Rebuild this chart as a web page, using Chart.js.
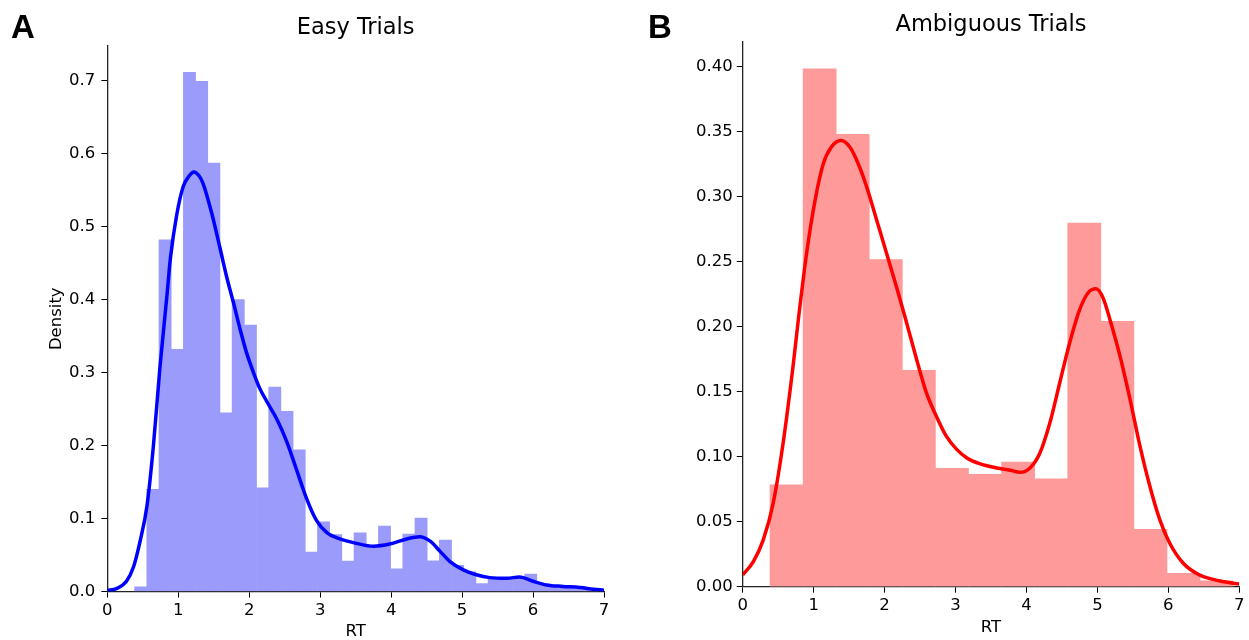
<!DOCTYPE html>
<html>
<head>
<meta charset="utf-8">
<script src="https://cdn.jsdelivr.net/npm/chart.js@4.4.0/dist/chart.umd.min.js"></script>
<style>
    html, body { margin: 0; padding: 0; background: #fff; overflow: hidden; }
    #easyChart { position: absolute; left: 0; top: 0; }
    #ambChart { position: absolute; left: 624px; top: 0; }
</style>
</head>
<body>
<canvas id="easyChart" width="624" height="642"></canvas>
<canvas id="ambChart" width="625" height="642"></canvas>
<script>
const rtTicks = [0, 1, 2, 3, 4, 5, 6, 7];

// Easy trials: density histogram (38 bins over the RT range) + kde
const easyBinRange = [0.385, 6.913];
const easyDensity = [
    0.0064, 0.140, 0.482, 0.332, 0.7115, 0.699, 0.587, 0.245, 0.400, 0.365,
    0.142, 0.280, 0.247, 0.194, 0.054, 0.0955, 0.078, 0.0416, 0.0805, 0.062,
    0.0897, 0.031, 0.0788, 0.1007, 0.042, 0.0705, 0.036, 0.027, 0.011, 0.018,
    0.019, 0.018, 0.024, 0.009, 0.0066, 0.006, 0.005, 0.003
];
const easyKdeX = [0, 0.13, 0.27, 0.37, 0.46, 0.56, 0.65, 0.74, 0.84, 0.89, 0.98, 1.07, 1.15, 1.22, 1.29, 1.35, 1.47, 1.59, 1.68, 1.78, 1.87, 1.96, 2.06, 2.15, 2.25, 2.39, 2.53, 2.67, 2.81, 2.95, 3.09, 3.28, 3.51, 3.75, 3.98, 4.22, 4.40, 4.55, 4.69, 4.83, 5.01, 5.20, 5.39, 5.63, 5.81, 6.00, 6.19, 6.42, 6.66, 6.85, 7.0];
const easyKdeY = [0.0014, 0.004, 0.014, 0.034, 0.068, 0.118, 0.200, 0.305, 0.405, 0.457, 0.517, 0.555, 0.569, 0.575, 0.570, 0.559, 0.519, 0.470, 0.432, 0.395, 0.360, 0.328, 0.300, 0.278, 0.260, 0.236, 0.205, 0.166, 0.127, 0.097, 0.081, 0.072, 0.066, 0.062, 0.065, 0.072, 0.075, 0.069, 0.055, 0.041, 0.030, 0.023, 0.019, 0.018, 0.020, 0.014, 0.009, 0.007, 0.0055, 0.0032, 0.0018];
const easyYTicks = [0, 0.1, 0.2, 0.3, 0.4, 0.5, 0.6, 0.7];

// Ambiguous trials: density histogram (14 bins) + kde
const ambBinRange = [0.385, 6.913];
const ambDensity = [0.0784, 0.3982, 0.3477, 0.2515, 0.1663, 0.0910, 0.0864, 0.0959, 0.0830, 0.2795, 0.2041, 0.0442, 0.0103, 0.0046];
const ambKdeX = [0, 0.15, 0.29, 0.43, 0.57, 0.71, 0.79, 0.90, 1.02, 1.135, 1.25, 1.385, 1.51, 1.63, 1.75, 1.89, 2.03, 2.17, 2.29, 2.45, 2.59, 2.73, 2.87, 3.02, 3.16, 3.34, 3.58, 3.77, 3.91, 4.05, 4.19, 4.33, 4.47, 4.61, 4.75, 4.87, 4.98, 5.08, 5.175, 5.32, 5.46, 5.60, 5.74, 5.88, 6.02, 6.21, 6.44, 6.73, 7.0];
const ambKdeY = [0.009, 0.0193, 0.036, 0.0643, 0.1105, 0.1697, 0.208, 0.256, 0.297, 0.325, 0.338, 0.343, 0.338, 0.325, 0.307, 0.2815, 0.256, 0.230, 0.207, 0.175, 0.149, 0.131, 0.1157, 0.1054, 0.099, 0.0946, 0.0913, 0.0895, 0.0879, 0.0913, 0.1028, 0.126, 0.157, 0.1877, 0.213, 0.226, 0.229, 0.222, 0.2057, 0.177, 0.144, 0.108, 0.077, 0.0514, 0.0334, 0.018, 0.009, 0.0044, 0.002];
const ambYTicks = [0, 0.05, 0.10, 0.15, 0.20, 0.25, 0.30, 0.35, 0.40];

Chart.defaults.font.family = '"DejaVu Sans", sans-serif';
Chart.defaults.color = '#000';

// panel letter (A / B) drawn in the corner of each canvas
const panelLetter = {
    id: 'panelLetter',
    afterDraw(chart, args, opts) {
        const ctx = chart.ctx;
        ctx.save();
        ctx.font = 'bold 33px "Liberation Sans", sans-serif';
        ctx.fillStyle = '#000';
        ctx.textBaseline = 'alphabetic';
        ctx.fillText(opts.text, opts.x, opts.y);
        ctx.restore();
    }
};

function histPoints(range, heights) {
    const w = (range[1] - range[0]) / heights.length;
    return heights.map((h, i) => ({ x: range[0] + w * (i + 0.5), y: h }));
}

function kdePoints(xs, ys) {
    return xs.map((x, i) => ({ x, y: ys[i] }));
}

function buildDistChart(canvas, p) {
    return new Chart(canvas.getContext('2d'), {
        type: 'bar',
        data: {
            datasets: [{
                type: 'line',
                data: kdePoints(p.kdeX, p.kdeY),
                borderColor: p.lineColor,
                borderWidth: 3.5,
                pointRadius: 0,
                fill: false,
                cubicInterpolationMode: 'monotone',
                order: 0
            }, {
                data: histPoints(p.binRange, p.density),
                backgroundColor: p.barColor,
                borderWidth: 0,
                barPercentage: 1,
                categoryPercentage: 1,
                order: 1
            }]
        },
        options: {
            responsive: false,
            animation: false,
            layout: { padding: { left: 0, right: p.padRight, top: 0, bottom: 0 } },
            plugins: {
                legend: { display: false },
                tooltip: { enabled: false },
                title: {
                    display: true,
                    text: p.title,
                    fullSize: false,
                    font: { size: 22.5, weight: 'normal' },
                    padding: { top: p.titleTop, bottom: p.titleBottom }
                },
                panelLetter: { text: p.letter, x: p.letterX, y: 38 }
            },
            scales: {
                x: {
                    type: 'linear',
                    min: 0,
                    max: 7,
                    offset: false,
                    afterBuildTicks: s => { s.ticks = rtTicks.map(v => ({ value: v })); },
                    afterFit: s => { s.height = p.xHeight; },
                    grid: { offset: false, drawOnChartArea: false, drawTicks: true, tickLength: 6, color: '#000' },
                    border: { display: true, color: '#222', width: 1.3 },
                    ticks: { font: { size: 16.5 }, padding: 3, color: '#000', maxRotation: 0 },
                    title: { display: true, text: 'RT', font: { size: 16.5 }, padding: { top: 0, bottom: p.rtPad } }
                },
                y: {
                    min: 0,
                    max: p.yMax,
                    afterBuildTicks: s => { s.ticks = p.yTicks.map(v => ({ value: v })); },
                    afterFit: s => { s.width = p.yWidth; },
                    grid: { drawOnChartArea: false, drawTicks: true, tickLength: 6, color: '#000' },
                    border: { display: true, color: '#222', width: 1.3 },
                    ticks: {
                        font: { size: 16.5 },
                        padding: p.yTickPad,
                        color: '#000',
                        callback: v => Number(v).toFixed(p.decimals)
                    },
                    title: { display: p.yLabel !== '', text: p.yLabel, font: { size: 16.5 }, padding: { top: 47, bottom: 0 } }
                }
            }
        },
        plugins: [panelLetter]
    });
}

buildDistChart(document.getElementById('easyChart'), {
    title: 'Easy Trials', letter: 'A', letterX: 11,
    binRange: easyBinRange, density: easyDensity,
    kdeX: easyKdeX, kdeY: easyKdeY,
    barColor: '#9b9bfc', lineColor: '#0000ff',
    yTicks: easyYTicks, yMax: 0.7475, decimals: 1, yLabel: 'Density',
    padRight: 20, yWidth: 107.3, xHeight: 50.5, rtPad: 0, yTickPad: 6,
    titleTop: 14.5, titleBottom: 4.5
});

buildDistChart(document.getElementById('ambChart'), {
    title: 'Ambiguous Trials', letter: 'B', letterX: 24,
    binRange: ambBinRange, density: ambDensity,
    kdeX: ambKdeX, kdeY: ambKdeY,
    barColor: '#fe9a9a', lineColor: '#ff0000',
    yTicks: ambYTicks, yMax: 0.419, decimals: 2, yLabel: '',
    padRight: 9.7, yWidth: 118.7, xHeight: 55.3, rtPad: 4.1, yTickPad: 4,
    titleTop: 11.5, titleBottom: 3.2
});
</script>
</body>
</html>
